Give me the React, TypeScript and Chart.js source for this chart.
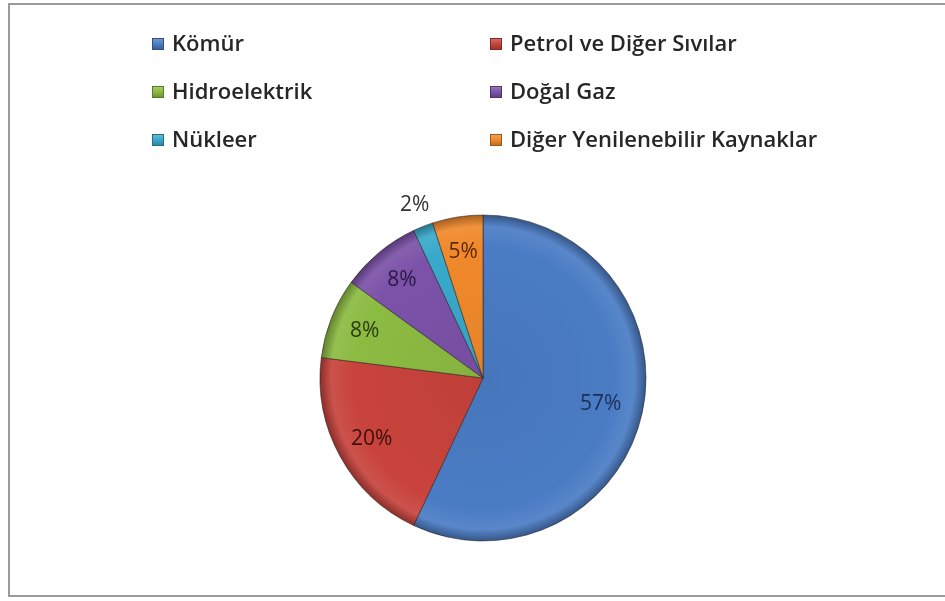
import React, { useEffect, useRef } from "react";
import { Chart, registerables } from "chart.js";

Chart.register(...registerables);

const labels = [
  "Kömür",
  "Petrol ve Diğer Sıvılar",
  "Hidroelektrik",
  "Doğal Gaz",
  "Nükleer",
  "Diğer Yenilenebilir Kaynaklar",
];
const values = [57, 20, 8, 8, 2, 5];
const colors = ["#4a7cc4", "#c8433c", "#8cbb42", "#7b52a8", "#38a9cb", "#f0892b"];
const labelColors = ["#1c2f5a", "#3d0e0b", "#2a3b10", "#2a1845", "#333333", "#5c2a05"];
const legendOrder = [0, 1, 2, 3, 4, 5];

function shade(hex: string, amt: number) {
  const n = parseInt(hex.slice(1), 16);
  let r = (n >> 16) & 255, g = (n >> 8) & 255, b = n & 255;
  const f = (c: number) => Math.max(0, Math.min(255, Math.round(amt >= 0 ? c + (255 - c) * amt : c * (1 + amt))));
  r = f(r); g = f(g); b = f(b);
  return `rgb(${r},${g},${b})`;
}

const FONT = "'Open Sans', Lato, sans-serif";

const legendPlugin = {
  id: "gridLegend",
  afterDraw(chart: any) {
    const ctx = chart.ctx;
    ctx.save();
    ctx.font = `600 22px ${FONT}`;
    ctx.textBaseline = "middle";
    ctx.textAlign = "left";
    const colX = [152, 490];
    const rowY = [44, 92, 140];
    legendOrder.forEach((idx, i) => {
      const col = i % 2;
      const row = Math.floor(i / 2);
      const x = colX[col];
      const y = rowY[row];
      const g = ctx.createLinearGradient(x, y - 6, x, y + 6);
      g.addColorStop(0, shade(colors[idx], 0.25));
      g.addColorStop(0.5, colors[idx]);
      g.addColorStop(1, shade(colors[idx], -0.25));
      ctx.fillStyle = g;
      ctx.fillRect(x, y - 6, 12, 12);
      ctx.strokeStyle = shade(colors[idx], -0.35);
      ctx.lineWidth = 1;
      ctx.strokeRect(x + 0.5, y - 5.5, 11, 11);
      ctx.fillStyle = "#262626";
      ctx.fillText(labels[idx], x + 20, y + 1);
    });
    ctx.restore();
  },
};

const pctLabelPlugin = {
  id: "pctLabels",
  afterDatasetsDraw(chart: any) {
    const ctx = chart.ctx;
    const meta = chart.getDatasetMeta(0);
    const total = values.reduce((a, b) => a + b, 0);
    ctx.save();
    ctx.font = `500 21px ${FONT}`;
    ctx.textAlign = "center";
    ctx.textBaseline = "middle";
    meta.data.forEach((arc: any, i: number) => {
      const { x, y, startAngle, endAngle, outerRadius } = arc.getProps(
        ["x", "y", "startAngle", "endAngle", "outerRadius"],
        true
      );
      const mid = (startAngle + endAngle) / 2;
      const pct = Math.round((values[i] / total) * 100);
      const outside = pct < 3;
      const f = outside ? 1.14 : i === 0 ? 0.74 : 0.78;
      const lx = x + Math.cos(mid) * outerRadius * f;
      const ly = y + Math.sin(mid) * outerRadius * f;
      ctx.fillStyle = labelColors[i];
      ctx.fillText(`${pct}%`, lx, ly);
    });
    ctx.restore();
  },
};

export default function App() {
  const ref = useRef<HTMLCanvasElement | null>(null);
  useEffect(() => {
    if (!ref.current) return;
    const chart = new Chart(ref.current, {
      type: "pie",
      data: {
        labels,
        datasets: [
          {
            data: values,
            backgroundColor: (c: any) => {
              const chart = c.chart;
              const area = chart.chartArea;
              if (!area) return colors[c.dataIndex];
              const cx = (area.left + area.right) / 2;
              const cy = (area.top + area.bottom) / 2;
              const r = 163;
              const g = chart.ctx.createRadialGradient(cx, cy, 0, cx, cy, r);
              const base = colors[c.dataIndex];
              g.addColorStop(0, shade(base, -0.05));
              g.addColorStop(0.8, base);
              g.addColorStop(0.93, shade(base, 0.08));
              g.addColorStop(1, shade(base, -0.3));
              return g;
            },
            borderColor: "rgba(40,30,30,0.55)",
            borderWidth: 1,
          },
        ],
      },
      options: {
        animation: false,
        responsive: false,
        radius: 163,
        layout: { padding: { left: 320, right: 299, top: 215, bottom: 60 } },
        plugins: {
          legend: { display: false },
          tooltip: { enabled: false },
        },
      } as any,
      plugins: [legendPlugin, pctLabelPlugin],
    });
    return () => chart.destroy();
  }, []);

  return (
    <div style={{ position: "fixed", left: 0, top: 0, width: 945, height: 601, background: "#fff", overflow: "hidden" }}>
      <div
        style={{
          position: "absolute",
          left: 8,
          top: 3,
          width: 960,
          height: 594,
          border: "2px solid #9a9a9a",
          boxSizing: "border-box",
        }}
      />
      <canvas ref={ref} width={945} height={601} style={{ position: "absolute", left: 0, top: 0 }} />
    </div>
  );
}
